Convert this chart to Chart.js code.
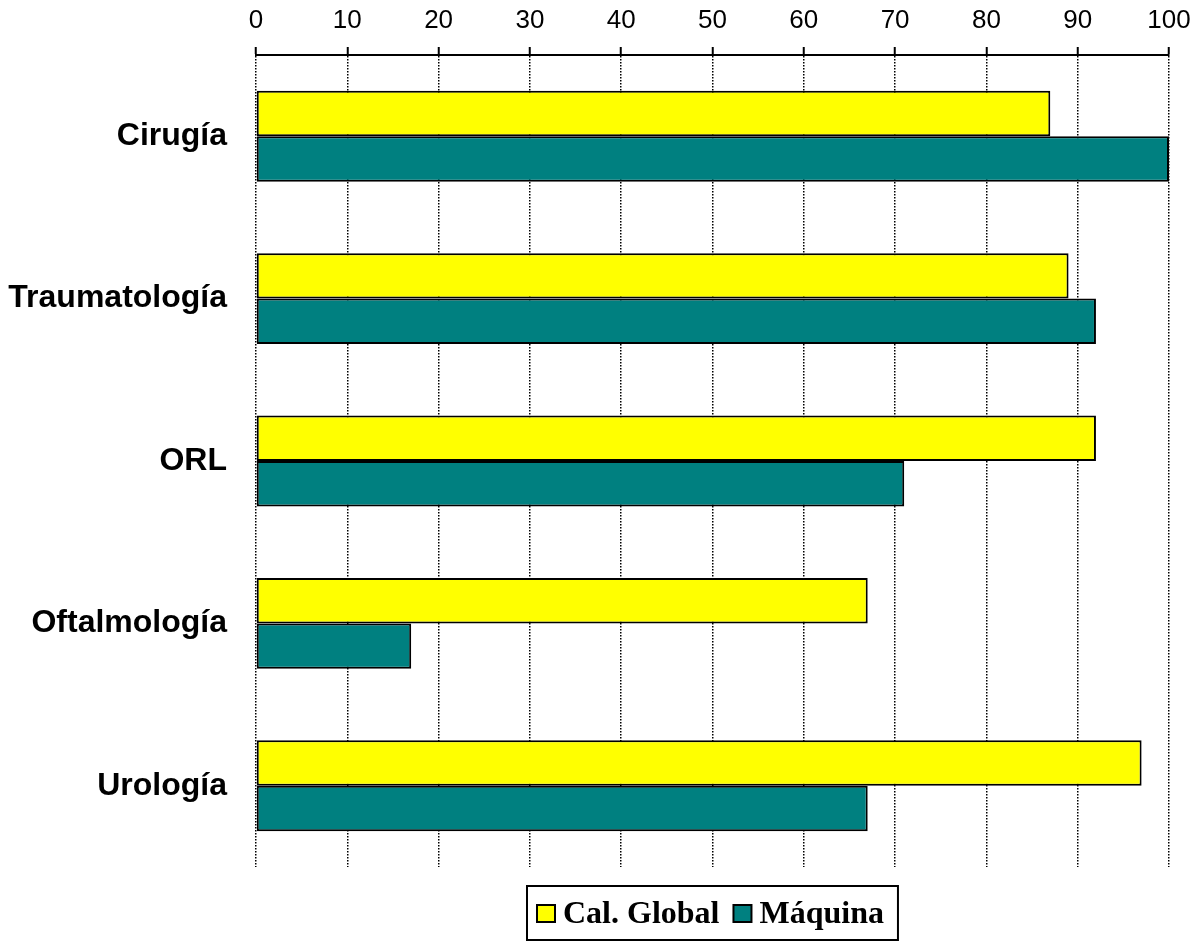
<!DOCTYPE html>
<html>
<head>
<meta charset="utf-8">
<script src="https://cdn.jsdelivr.net/npm/chart.js@4.4.0/dist/chart.umd.min.js"></script>
<style>
  html, body { margin: 0; padding: 0; background: #ffffff; }
  #wrap { width: 1193px; height: 942px; }
</style>
</head>
<body>
<div id="wrap"><canvas id="c" width="1193" height="942"></canvas></div>
<script>
// Specialties and percentage values for each series
const categories = ['Cirugía', 'Traumatología', 'ORL', 'Oftalmología', 'Urología'];
const calGlobal = [87, 89, 92, 67, 97];
const maquina = [100, 92, 71, 17, 67];
const seriesNames = ['Cal. Global', 'Máquina'];
const xTickValues = [0, 10, 20, 30, 40, 50, 60, 70, 80, 90, 100];

// Legend drawn centred under the plot, framed by a black box
const boxedLegend = {
  id: 'boxedLegend',
  afterDraw(chart, args, opts) {
    const ctx = chart.ctx;
    const area = chart.chartArea;
    ctx.save();
    ctx.font = opts.font;
    const items = chart.data.datasets.map(d => ({
      label: d.label,
      color: d.backgroundColor,
      w: ctx.measureText(d.label).width
    }));
    const box = 18, gap = 8, itemGap = 14, padL = 10, padR = 14;
    const total = padL + padR + items.reduce((s, it) => s + box + gap + it.w, 0) + itemGap * (items.length - 1);
    const cx = (area.left + area.right) / 2;
    const x0 = Math.round(cx - total / 2);
    const y0 = area.bottom + opts.offset;
    const h = opts.height;
    ctx.lineWidth = 2;
    ctx.strokeStyle = '#000';
    ctx.strokeRect(x0, y0, total, h);
    let x = x0 + padL;
    const midY = y0 + h / 2 + 1;
    ctx.textBaseline = 'middle';
    ctx.textAlign = 'left';
    items.forEach(it => {
      ctx.fillStyle = it.color;
      ctx.fillRect(x, midY - box / 2, box, box - 1);
      ctx.lineWidth = 2;
      ctx.strokeRect(x, midY - box / 2, box, box - 1);
      x += box + gap;
      ctx.fillStyle = '#000';
      ctx.fillText(it.label, x, midY + 1);
      x += it.w + itemGap;
    });
    ctx.restore();
  }
};

new Chart(document.getElementById('c'), {
  type: 'bar',
  data: {
    labels: categories,
    datasets: [
      {
        label: seriesNames[0],
        data: calGlobal,
        backgroundColor: '#FFFF00',
        borderColor: '#000000',
        borderWidth: 2,
        borderSkipped: false,
        categoryPercentage: 0.56,
        barPercentage: 1.0
      },
      {
        label: seriesNames[1],
        data: maquina,
        backgroundColor: '#008080',
        borderColor: '#000000',
        borderWidth: 2,
        borderSkipped: false,
        categoryPercentage: 0.56,
        barPercentage: 1.0
      }
    ]
  },
  options: {
    indexAxis: 'y',
    responsive: false,
    animation: false,
    devicePixelRatio: 1,
    layout: { padding: { top: 0, left: 0, right: 0, bottom: 75 } },
    plugins: {
      legend: { display: false },
      tooltip: { enabled: false },
      boxedLegend: {
        font: 'bold 32px "Liberation Serif", "Times New Roman", serif',
        offset: 19,
        height: 54
      }
    },
    scales: {
      x: {
        position: 'top',
        min: 0,
        max: 100,
        afterFit: s => { s.height = 55; s.paddingRight = 24; s.paddingLeft = 0; },
        afterBuildTicks: s => { s.ticks = xTickValues.map(v => ({ value: v })); },
        ticks: {
          color: '#000',
          padding: 11,
          maxRotation: 0,
          font: { family: 'Arial, "Liberation Sans", sans-serif', size: 26 }
        },
        grid: {
          color: '#000',
          lineWidth: 1.5,
          drawTicks: true,
          tickLength: 8,
          tickColor: '#000',
          tickWidth: 2,
          tickBorderDash: []
        },
        border: { display: true, color: '#000', width: 2, dash: [1.5, 1.5] }
      },
      y: {
        afterFit: s => { s.width = 256; },
        ticks: {
          color: '#000',
          padding: 21,
          font: { family: 'Arial, "Liberation Sans", sans-serif', size: 32, weight: 'bold' }
        },
        grid: { display: false },
        border: { display: false }
      }
    }
  },
  plugins: [boxedLegend]
});
</script>
</body>
</html>
